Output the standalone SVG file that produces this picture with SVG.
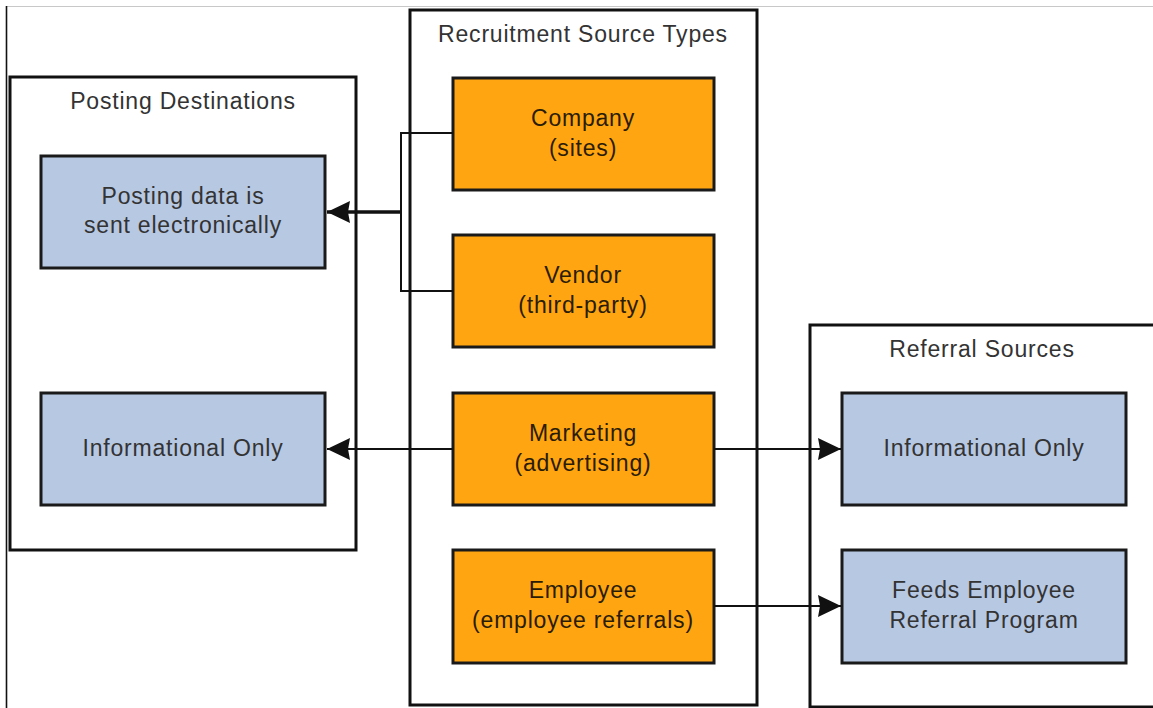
<svg xmlns="http://www.w3.org/2000/svg" width="1153" height="708" viewBox="0 0 1153 708">
<style>
.grp{fill:#fff;stroke:#111;stroke-width:3}
.org{fill:#FFA511;stroke:#1a1a1a;stroke-width:3}
.blu{fill:#B7C8E3;stroke:#1a1a1a;stroke-width:3}
.t{font-family:"Liberation Sans",Arial,sans-serif;font-size:23px;letter-spacing:0.8px;text-anchor:middle;fill:#333}
.to{fill:#2a1c05}
.c{fill:none;stroke:#111;stroke-width:2}
.ca{fill:none;stroke:#111;stroke-width:2;marker-end:url(#ah)}
</style>
<defs>
<marker id="ah" markerUnits="userSpaceOnUse" markerWidth="24" markerHeight="24" viewBox="0 0 24 24" refX="23" refY="12" orient="auto">
<path d="M0,1 L23,12 L0,23 L2,12 Z" fill="#111"/>
</marker>
</defs>
<rect width="1153" height="708" fill="#fff"/>
<line x1="6" y1="6.5" x2="1153" y2="6.5" stroke="#c8c8c8" stroke-width="1"/>
<line x1="6.5" y1="6" x2="6.5" y2="708" stroke="#111" stroke-width="1.6"/>

<g id="posting-destinations">
<rect class="grp" x="10" y="77" width="346" height="473"/>
<text class="t" x="183" y="109">Posting Destinations</text>
</g>
<g id="recruitment-source-types">
<rect class="grp" x="410" y="10" width="347" height="695"/>
<text class="t" x="583" y="42">Recruitment Source Types</text>
</g>
<g id="referral-sources">
<rect class="grp" x="810" y="325" width="346" height="382"/>
<text class="t" x="982" y="357">Referral Sources</text>
</g>

<g id="posting-data">
<rect class="blu" x="41" y="156" width="284" height="112"/>
<text class="t" x="183" y="204">Posting data is</text>
<text class="t" x="183" y="233">sent electronically</text>
</g>
<g id="info-only-left">
<rect class="blu" x="41" y="393" width="284" height="112"/>
<text class="t" x="183" y="456">Informational Only</text>
</g>
<g id="company">
<rect class="org" x="453" y="78" width="261" height="112"/>
<text class="t to" x="583" y="126">Company</text>
<text class="t to" x="583" y="156">(sites)</text>
</g>
<g id="vendor">
<rect class="org" x="453" y="235" width="261" height="112"/>
<text class="t to" x="583" y="283">Vendor</text>
<text class="t to" x="583" y="313">(third-party)</text>
</g>
<g id="marketing">
<rect class="org" x="453" y="393" width="261" height="112"/>
<text class="t to" x="583" y="441">Marketing</text>
<text class="t to" x="583" y="471">(advertising)</text>
</g>
<g id="employee">
<rect class="org" x="453" y="550" width="261" height="113"/>
<text class="t to" x="583" y="598">Employee</text>
<text class="t to" x="583" y="628">(employee referrals)</text>
</g>
<g id="info-only-right">
<rect class="blu" x="842" y="393" width="284" height="112"/>
<text class="t" x="984" y="456">Informational Only</text>
</g>
<g id="feeds-referral">
<rect class="blu" x="842" y="550" width="284" height="113"/>
<text class="t" x="984" y="598">Feeds Employee</text>
<text class="t" x="984" y="628">Referral Program</text>
</g>

<g id="connectors">
<path class="c" d="M453,133 H401 V291 H453"/>
<path class="ca" d="M401,212 H327" style="stroke-width:3.5"/>
<path class="ca" d="M453,449 H327"/>
<path class="ca" d="M714,449 H841"/>
<path class="ca" d="M714,606 H841"/>
</g>
</svg>
